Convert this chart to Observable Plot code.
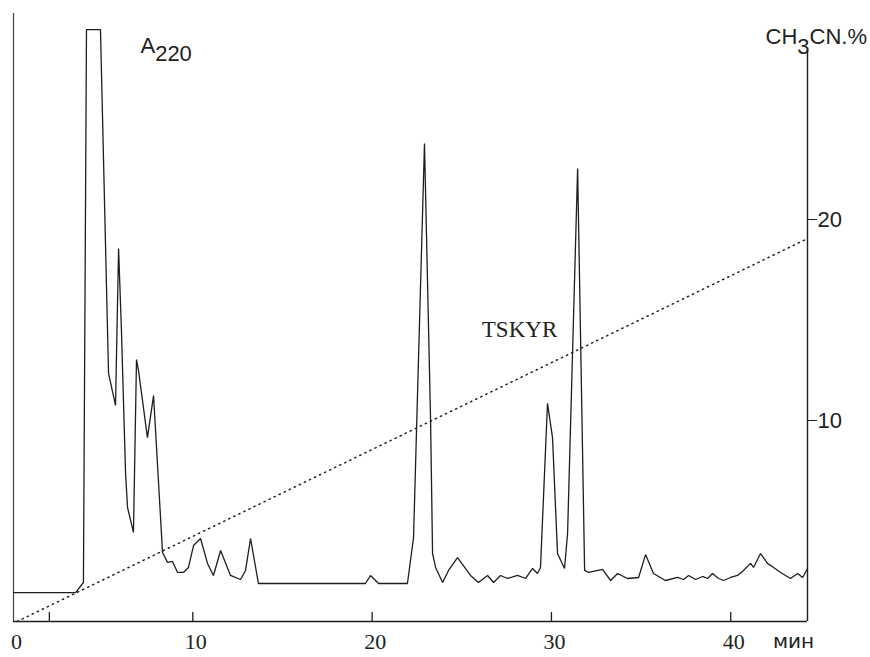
<!DOCTYPE html>
<html>
<head>
<meta charset="utf-8">
<script src="https://cdn.jsdelivr.net/npm/d3@7"></script>
<script src="https://cdn.jsdelivr.net/npm/@observablehq/plot@0.6"></script>
<style>
  html, body { margin: 0; padding: 0; background: #fff; }
  #chart { width: 870px; height: 657px; }
</style>
</head>
<body>
<div id="chart"></div>
<script>
// ---- Data ----
// Retention time, min
const timeMin = [0, 3.46, 3.90, 4.07, 4.85, 5.30, 5.69, 5.86, 6.02, 6.25, 6.36, 6.69, 6.86, 6.97, 7.47, 7.81, 8.20, 8.31, 8.59, 8.87,
  9.15, 9.48, 9.76, 10.04, 10.43, 10.82, 11.15, 11.55, 12.10, 12.66, 12.94, 13.22, 13.66, 19.63, 19.91, 20.36, 21.97, 22.31, 22.92, 23.26,
  23.37, 23.54, 23.93, 24.26, 24.76, 25.49, 25.93, 26.44, 26.77, 27.16, 27.55, 28.11, 28.56, 28.95, 29.22, 29.39, 29.78, 30.06, 30.34, 30.73,
  30.90, 31.46, 31.85, 32.07, 32.85, 33.30, 33.69, 34.24, 34.86, 35.25, 35.69, 36.36, 37.03, 37.37, 37.65, 38.04, 38.43, 38.71, 38.98, 39.32,
  39.60, 39.99, 40.38, 40.71, 41.10, 41.27, 41.66, 42.05, 42.39, 42.78, 43.33, 43.73, 44.01, 44.28];
// Absorbance at 220 nm (relative units, same vertical scale as the chart)
const a220 = [1.44, 1.44, 1.94, 29.45, 29.45, 12.34, 10.75, 18.56, 14.48, 7.36, 5.67, 4.43, 13.03, 12.49, 9.15, 11.24, 5.17, 3.43, 2.94, 2.99,
  2.44, 2.44, 2.69, 3.78, 4.13, 2.89, 2.29, 3.53, 2.29, 2.09, 2.54, 4.13, 1.89, 1.89, 2.29, 1.89, 1.89, 4.18, 23.78, 10.0,
  3.38, 2.69, 1.94, 2.54, 3.18, 2.29, 1.94, 2.29, 1.94, 2.29, 2.14, 2.29, 2.14, 2.64, 2.39, 2.69, 10.85, 9.15, 3.38, 2.64,
  4.38, 22.54, 2.54, 2.44, 2.59, 2.04, 2.39, 2.14, 2.19, 3.33, 2.39, 2.04, 2.19, 2.09, 2.29, 2.09, 2.24, 2.14, 2.39, 2.14,
  2.04, 2.19, 2.29, 2.54, 2.89, 2.69, 3.38, 2.89, 2.69, 2.44, 2.14, 2.39, 2.19, 2.64];
// Acetonitrile gradient, %
const gradTime = [0.2, 44.28];
const gradPct = [0, 19.05];
// Axis ticks
const xTickMarks = [2, 10, 20, 30, 40];
const xTickLabels = [0, 10, 20, 30, 40];
const yTicks = [10, 20];
const xUnit = "мин";
const yTitle = "CH3CN.%";
const signalTitle = "A220";
const peakLabel = "TSKYR";

// ---- Tables built from the arrays ----
const chrom = timeMin.map((t, i) => ({t, a: a220[i]}));
const grad = gradTime.map((t, i) => ({t, p: gradPct[i]}));

const xMax = 44.28, yMax = 30.25, rightAxisTop = 28.4, tickLen = 0.45;
const ink = "#1e1e1e";

const plot = Plot.plot({
  width: 870,
  height: 657,
  marginTop: 13,
  marginLeft: 13,
  marginRight: 63,
  marginBottom: 36,
  x: {domain: [0, xMax]},
  y: {domain: [0, yMax]},
  style: {background: "#fff", color: ink, overflow: "visible"},
  marks: [
    // frame lines
    Plot.ruleX([0], {y1: 0, y2: yMax, stroke: "#444", strokeWidth: 1.2}),
    Plot.ruleX([xMax], {y1: 0, y2: rightAxisTop, stroke: ink, strokeWidth: 1.4}),
    Plot.ruleY([0], {x1: 0, x2: xMax, stroke: ink, strokeWidth: 1.3}),
    // inward ticks on the time axis
    Plot.ruleX(xTickMarks, {y1: 0, y2: tickLen, stroke: ink, strokeWidth: 1.3}),
    Plot.axisX({ticks: xTickLabels, tickSize: 0, tickPadding: 12, dx: 3, label: null,
      fontSize: 22, fontFamily: "Liberation Serif, serif", fill: "#222"}),
    Plot.axisY({anchor: "right", ticks: yTicks, tickSize: 9, tickPadding: 1, label: null,
      fontSize: 22, fontFamily: "Liberation Sans, sans-serif", fill: "#222", stroke: ink}),
    // gradient
    Plot.line(grad, {x: "t", y: "p", stroke: "#222", strokeWidth: 1.5, strokeDasharray: "1.3,4.3"}),
    // chromatogram
    Plot.line(chrom, {x: "t", y: "a", stroke: ink, strokeWidth: 1.3, strokeLinejoin: "miter"}),
    // labels
    Plot.text([signalTitle], {x: 7.08, y: 28.66, text: d => d, textAnchor: "start",
      fontSize: 22, fontFamily: "Liberation Sans, sans-serif", fill: "#222"}),
    Plot.text([yTitle], {x: 41.94, y: 29.1, text: d => d, textAnchor: "start",
      fontSize: 22, fontFamily: "Liberation Sans, sans-serif", fill: "#222"}),
    Plot.text([peakLabel], {x: 28.22, y: 14.5, text: d => d, textAnchor: "middle",
      fontSize: 23, fontFamily: "Liberation Serif, serif", fill: "#222"}),
    Plot.text([xUnit], {x: 43.5, y: -1.0, text: d => d, textAnchor: "middle",
      fontSize: 20, fontFamily: "DejaVu Sans, sans-serif", fill: "#222"})
  ]
});

// subscripts
function subscriptify(svg, full, parts) {
  d3.select(svg).selectAll("text").filter(function() { return this.textContent === full; })
    .each(function() {
      const t = d3.select(this);
      t.text(null);
      parts.forEach(([s, dy]) => t.append("tspan").attr("dy", dy).text(s));
    });
}
subscriptify(plot, signalTitle, [["A", "0"], ["220", "0.4em"]]);
subscriptify(plot, yTitle, [["CH", "0"], ["3", "0.45em"], ["CN.%", "-0.45em"]]);

document.getElementById("chart").appendChild(plot);
</script>
</body>
</html>
